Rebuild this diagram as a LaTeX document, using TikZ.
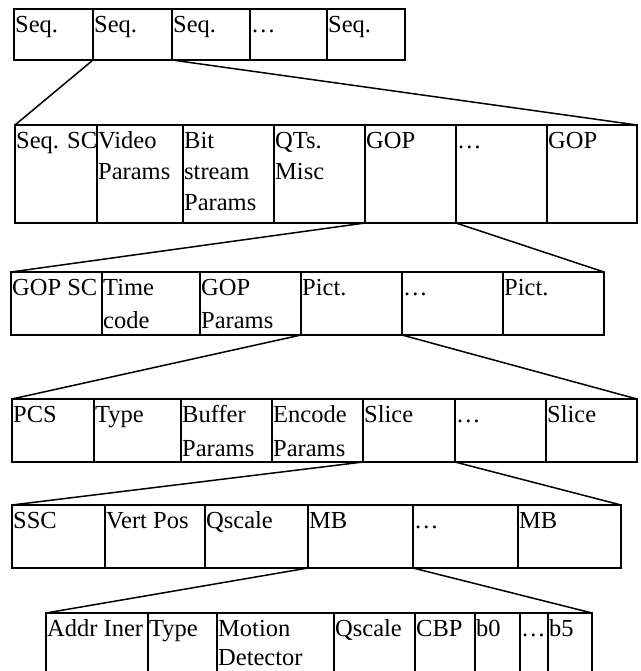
\documentclass[tikz,border=0pt]{standalone}
\usepackage{fontspec}
\setmainfont{Liberation Serif}
\tikzset{
  cellbox/.style={draw, line width=1.5pt, anchor=north west, inner sep=0pt, outer sep=0pt},
  celltext/.style={anchor=north west, inner sep=0pt, align=left, font=\fontsize{24.5}{31}\selectfont},
  conn/.style={line width=1.5pt}
}
\newcommand\cell[6]{%
  \node[cellbox, minimum width={(#3-#2)*1pt}, minimum height={(#5-#4)*1pt}] (#1) at (#2,#4) {};
  \node[celltext] (#1t) at ([xshift=1pt,yshift=-2pt]#1.north west) {#6};
}
\newcommand\ts{\strut}
\begin{document}
\begin{tikzpicture}[x=1pt,y=-1pt]
\clip (0,0) rectangle (640,671);
\fill[white] (0,0) rectangle (640,671);
% Row 1
\cell{r1c1}{14}{93}{9}{60}{\ts Seq.}
\cell{r1c2}{93}{172}{9}{60}{\ts Seq.}
\cell{r1c3}{172}{250}{9}{60}{\ts Seq.}
\cell{r1c4}{250}{327}{9}{60}{\ts …}
\cell{r1c5}{327}{405}{9}{60}{\ts Seq.}
% Row 2
\cell{r2c1}{15}{97}{125}{223}{\ts Seq. SC}
\cell{r2c2}{97}{183}{125}{223}{\ts Video\\\ts Params}
\cell{r2c3}{183}{274}{125}{223}{\ts Bit\\\ts stream\\\ts Params}
\cell{r2c4}{274}{365}{125}{223}{\ts QTs.\\\ts Misc}
\cell{r2c5}{365}{456}{125}{223}{\ts GOP}
\cell{r2c6}{456}{547}{125}{223}{\ts …}
\cell{r2c7}{547}{637}{125}{223}{\ts GOP}
% Row 3
\cell{r3c1}{11}{102}{272}{335}{\ts GOP SC}
\cell{r3c2}{102}{200}{272}{335}{\ts Time\\[2pt]\ts code}
\cell{r3c3}{200}{301}{272}{335}{\ts GOP\\[2pt]\ts Params}
\cell{r3c4}{301}{402}{272}{335}{\ts Pict.}
\cell{r3c5}{402}{503}{272}{335}{\ts …}
\cell{r3c6}{503}{604}{272}{335}{\ts Pict.}
% Row 4
\cell{r4c1}{12}{94}{399}{462}{\ts PCS}
\cell{r4c2}{94}{181}{399}{462}{\ts Type}
\cell{r4c3}{181}{272}{399}{462}{\ts Buffer\\[3pt]\ts Params}
\cell{r4c4}{272}{363}{399}{462}{\ts Encode\\[3pt]\ts Params}
\cell{r4c5}{363}{455}{399}{462}{\ts Slice}
\cell{r4c6}{455}{546}{399}{462}{\ts …}
\cell{r4c7}{546}{637}{399}{462}{\ts Slice}
% Row 5
\cell{r5c1}{12}{105}{505}{568}{\ts SSC}
\cell{r5c2}{105}{205}{505}{568}{\ts Vert Pos}
\cell{r5c3}{205}{308}{505}{568}{\ts Qscale}
\cell{r5c4}{308}{413}{505}{568}{\ts MB}
\cell{r5c5}{413}{518}{505}{568}{\ts …}
\cell{r5c6}{518}{621}{505}{568}{\ts MB}
% Row 6
\cell{r6c1}{46}{148}{613}{676}{\ts Addr Iner}
\cell{r6c2}{148}{217}{613}{676}{\ts Type}
\cell{r6c3}{217}{334}{613}{676}{\ts Motion\\[-2pt]Detector}
\cell{r6c4}{334}{415}{613}{676}{\ts Qscale}
\cell{r6c5}{415}{475}{613}{676}{\ts CBP}
\cell{r6c6}{475}{520}{613}{676}{\ts b0}
\cell{r6c7}{520}{548}{613}{676}{\ts …}
\cell{r6c8}{548}{592}{613}{676}{\ts b5}
% Connectors
\draw[conn] (r1c2.south west) -- (r2c1.north west);
\draw[conn] (r1c3.south west) -- (r2c7.north east);
\draw[conn] (r2c5.south west) -- (r3c1.north west);
\draw[conn] (r2c6.south west) -- (r3c6.north east);
\draw[conn] (r3c4.south west) -- (r4c1.north west);
\draw[conn] (r3c5.south west) -- (r4c7.north east);
\draw[conn] (r4c5.south west) -- (r5c1.north west);
\draw[conn] (r4c6.south west) -- (r5c6.north east);
\draw[conn] (r5c4.south west) -- (r6c1.north west);
\draw[conn] (r5c5.south west) -- (r6c8.north east);
\end{tikzpicture}
\end{document}
